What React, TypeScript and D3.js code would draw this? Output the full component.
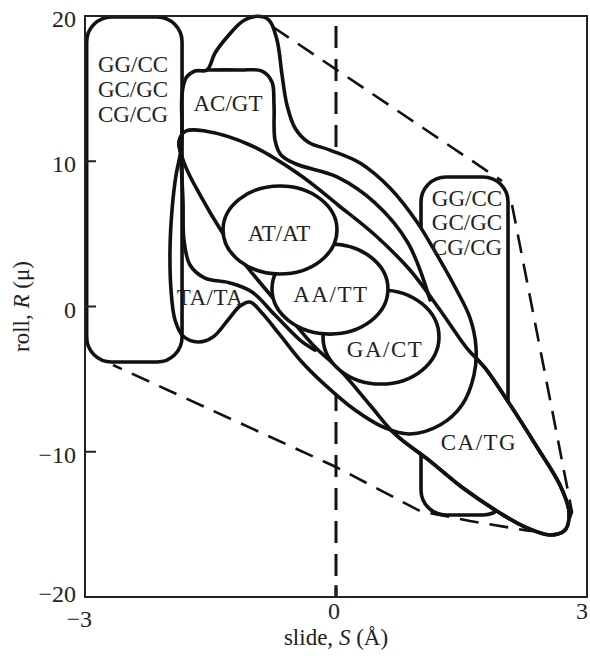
import React from "react";
import * as d3 from "d3";

type P = [number, number];

const xTicks = [-3, 0, 3];
const yTicks = [20, 10, 0, -10, -20];
const innerYTicks = [10, 0, -10];

// rounded boxes [sMin, sMax, rMin, rMax]
const leftBox = [-2.98, -1.84, -3.82, 19.93];
const rightBox = [1.016, 2.056, -14.35, 8.92];

// outer envelope (AC/GT peak + TA/TA region)
const outerEnvelope: P[] = [
  [-1.853, 10.77], [-1.912, 9.05], [-1.96, 6.64], [-1.984, 3.89], [-1.972, 1.14],
  [-1.924, -0.93], [-1.829, -2.03], [-1.649, -2.44], [-1.47, -2.1], [-1.291, -0.93],
  [-1.147, 0.03], [-1.028, 0.31], [-0.884, -0.45], [-0.669, -1.96], [-0.43, -3.68],
  [-0.131, -5.4], [0.227, -7.13], [0.586, -8.36], [0.884, -8.78], [1.243, -8.16],
  [1.506, -6.78], [1.649, -4.72], [1.673, -2.79], [1.602, -0.79], [1.422, 1.34],
  [1.207, 3.55], [0.968, 5.82], [0.645, 8.16], [0.287, 9.88], [-0.072, 10.77],
  [-0.335, 11.33], [-0.49, 12.29], [-0.586, 13.87], [-0.645, 15.94], [-0.705, 18.35],
  [-0.801, 19.72], [-0.944, 19.98], [-1.112, 19.66], [-1.291, 18.62], [-1.446, 17.45],
  [-1.542, 16.28], [-1.685, 16.21], [-1.793, 15.73], [-1.841, 14.56], [-1.841, 12.29],
];

// AC/GT box edge continuing as a long tail
const acgtEdge: P[] = [
  [-1.542, 16.28], [-1.147, 16.28], [-0.884, 16.21], [-0.765, 15.46], [-0.741, 13.87],
  [-0.729, 11.46], [-0.657, 10.43], [-0.478, 9.81], [0.012, 8.92], [0.466, 7.13],
  [0.861, 4.37], [1.124, 0.45],
];

// long CA/TG loop
const catgLoop: P[] = [
  [-1.876, 11.33], [-1.793, 12.08], [-1.566, 12.08], [-1.028, 11.12], [-0.43, 9.05],
  [0.024, 6.99], [0.466, 4.92], [0.884, 2.51], [1.243, -0.24], [1.554, -2.79],
  [1.781, -4.23], [2.02, -6.23], [2.402, -9.67], [2.677, -12.29], [2.785, -14.15],
  [2.737, -15.39], [2.558, -15.73], [2.259, -15.18], [1.96, -14.22], [1.518, -12.5],
  [1.124, -10.64], [0.705, -8.78], [0.406, -6.78], [0.048, -4.37], [-0.251, -2.79],
  [-0.55, -0.79], [-0.884, 1.48], [-1.147, 3.34], [-1.363, 5.13], [-1.625, 7.68],
  [-1.805, 9.74],
];

// inner TA/TA boundary
const taInner: P[] = [
  [-1.853, 9.95], [-1.829, 7.33], [-1.817, 4.58], [-1.745, 2.86], [-1.566, 1.96],
  [-1.267, 1.62], [-1.004, 1.0], [-0.729, -0.59], [-0.43, -2.31], [-0.251, -3.0],
];

// dashed hull
const hullTop: P[] = [[-0.753, 19.24], [1.984, 8.64]];
const hullSide: P[] = [
  [2.104, 6.99], [2.821, -14.15], [2.749, -15.39], [2.319, -15.46], [1.602, -14.77],
  [1.004, -14.08], [0, -11.05], [-2.665, -4.03],
];

// ellipses (drawn back to front)
const ellipseNames = ["GA/CT", "AA/TT", "AT/AT"];
const ellipseS = [0.538, -0.072, -0.669];
const ellipseR = [-2.1, 1.2, 5.27];
const ellipseHalfS = [0.693, 0.693, 0.681];
const ellipseHalfR = [3.24, 3.1, 3.03];

// region labels
const labelTexts = ["GG/CC", "GC/GC", "CG/CG", "GG/CC", "GC/GC", "CG/CG", "AC/GT", "AT/AT", "TA/TA", "AA/TT", "GA/CT", "CA/TG"];
const labelS = [-2.426, -2.426, -2.426, 1.566, 1.566, 1.566, -1.291, -0.681, -1.506, -0.06, 0.586, 1.709];
const labelR = [16.14, 14.42, 12.7, 6.92, 5.27, 3.55, 13.46, 4.51, 0.1, 0.31, -3.48, -9.88];
const labelSpacing = [0, 0, 0, 0, 0, 0, 0, 0, 0.5, 1.5, 1.5, 1.5];

const W = 590;
const H = 661;
const FONT = "'Liberation Serif', 'Times New Roman', serif";

export default function App() {
  const x = d3.scaleLinear().domain([-3, 3]).range([85, 587]);
  const y = d3.scaleLinear().domain([-20, 20]).range([597, 16]);

  const closed = d3.line<P>().x((d) => x(d[0])).y((d) => y(d[1])).curve(d3.curveCatmullRomClosed.alpha(0.5));
  const open = d3.line<P>().x((d) => x(d[0])).y((d) => y(d[1])).curve(d3.curveCatmullRom.alpha(0.5));
  const poly = d3.line<P>().x((d) => x(d[0])).y((d) => y(d[1]));

  const SW = 3.6;
  const box = (b: number[], fill: string) => (
    <rect
      x={x(b[0])}
      y={y(b[3])}
      width={x(b[1]) - x(b[0])}
      height={y(b[2]) - y(b[3])}
      rx={25}
      ry={25}
      fill={fill}
      stroke="#111"
      strokeWidth={SW}
    />
  );

  const fmt = (v: number) => (v < 0 ? "\u2212" + Math.abs(v) : String(v));

  return (
    <svg width={W} height={H} style={{ position: "absolute", left: 0, top: 0, background: "#fff" }} fontFamily={FONT}>
      {/* vertical dashed line at S = 0 */}
      <line x1={x(0)} x2={x(0)} y1={y(20)} y2={y(-20)} stroke="#111" strokeWidth={3} strokeDasharray="22 11" strokeDashoffset={-10} />
      {/* dashed hull */}
      <path d={poly(hullTop)!} fill="none" stroke="#111" strokeWidth={2.6} strokeDasharray="19 11" />
      <path d={poly(hullSide)!} fill="none" stroke="#111" strokeWidth={2.6} strokeDasharray="19 11" />

      {box(rightBox, "#fff")}
      <path d={closed(catgLoop)!} fill="#fff" stroke="#111" strokeWidth={SW} />
      <path d={closed(outerEnvelope)!} fill="#fff" stroke="#111" strokeWidth={SW} strokeLinejoin="round" />
      {box(leftBox, "none")}
      <path d={closed(catgLoop)!} fill="none" stroke="#111" strokeWidth={SW} />
      <path d={open(acgtEdge)!} fill="none" stroke="#111" strokeWidth={SW} strokeLinecap="round" />
      <path d={open(taInner)!} fill="none" stroke="#111" strokeWidth={SW} strokeLinecap="round" />

      {ellipseNames.map((n, i) => (
        <ellipse
          key={n}
          cx={x(ellipseS[i])}
          cy={y(ellipseR[i])}
          rx={x(ellipseS[i] + ellipseHalfS[i]) - x(ellipseS[i])}
          ry={y(ellipseR[i]) - y(ellipseR[i] + ellipseHalfR[i])}
          fill="#fff"
          stroke="#111"
          strokeWidth={SW}
        />
      ))}

      {labelTexts.map((t, i) => (
        <text
          key={i}
          x={x(labelS[i])}
          y={y(labelR[i])}
          textAnchor="middle"
          fontSize={23}
          letterSpacing={labelSpacing[i]}
          fill="#222"
        >
          {t}
        </text>
      ))}

      {/* frame */}
      <rect x={x(-3)} y={y(20)} width={x(3) - x(-3)} height={y(-20) - y(20)} fill="none" stroke="#222" strokeWidth={2} />
      {innerYTicks.map((t) => (
        <line key={t} x1={x(-3)} x2={x(-3) + 11} y1={y(t)} y2={y(t)} stroke="#222" strokeWidth={2} />
      ))}
      <line x1={x(0)} x2={x(0)} y1={y(-20)} y2={y(-20) - 12} stroke="#222" strokeWidth={3} />

      {/* y tick labels */}
      {yTicks.map((t) => (
        <text key={t} x={76} y={y(t) + (t === -20 ? 5 : 11)} textAnchor="end" fontSize={24} fill="#222">
          {fmt(t)}
        </text>
      ))}
      {/* x tick labels */}
      {xTicks.map((t) => (
        <text
          key={t}
          x={t === -3 ? x(t) + 7 : t === 3 ? 588 : x(t) - 2}
          y={t === -3 ? 627 : 619}
          textAnchor={t === -3 || t === 3 ? "end" : "middle"}
          fontSize={24}
          fill="#222"
        >
          {fmt(t)}
        </text>
      ))}

      {/* axis titles */}
      <text x={x(0)} y={645} textAnchor="middle" fontSize={23} fill="#222">
        slide, <tspan fontStyle="italic">S</tspan> (Å)
      </text>
      <text transform={`translate(29, ${y(0)}) rotate(-90)`} textAnchor="middle" fontSize={23} fill="#222">
        roll, <tspan fontStyle="italic">R</tspan> (μ)
      </text>
    </svg>
  );
}
